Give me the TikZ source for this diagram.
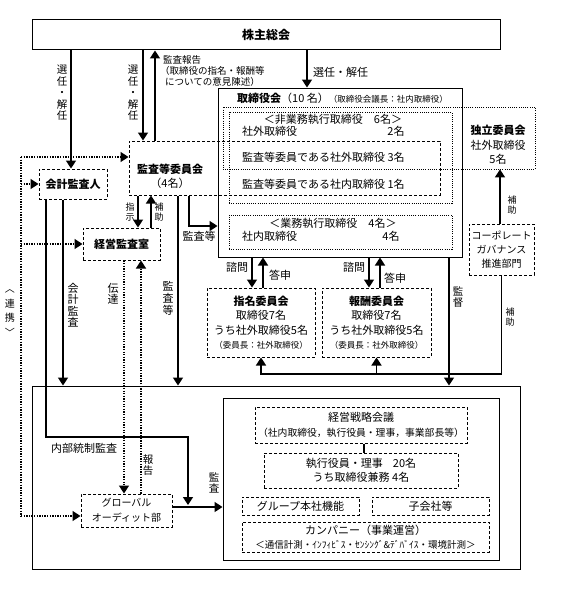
\documentclass[tikz,border=0pt]{standalone}
\usepackage{fontspec}
\setmainfont{Noto Sans CJK JP}
\usetikzlibrary{arrows.meta}

\begin{document}
\begin{tikzpicture}[x=1pt, y=-1pt,
  font=\fontsize{11}{14.5}\selectfont,
  box/.style={draw, line width=1pt, inner sep=0pt},
  dashbox/.style={box, dash pattern=on 3pt off 2pt},
  dotbox/.style={draw, line width=0.8pt, dash pattern=on 1pt off 1.2pt, inner sep=0pt},
  conn/.style={line width=1.6pt},
  arr/.style={conn, -{Triangle[length=8pt,width=10pt]}},
  dotline/.style={line width=1.5pt, dash pattern=on 1.3pt off 1.3pt},
  dotarr/.style={dotline, -{Triangle[length=8pt,width=10pt]}},
  lbl/.style={inner sep=0pt, align=center},
  vlbl/.style={lbl, font=\fontsize{10.5}{11.5}\selectfont},
  svlbl/.style={lbl, font=\fontsize{9}{10.5}\selectfont}]

\useasboundingbox (0,0) rectangle (572,594);

% boxes
\node[box, minimum width=468, minimum height=30] (kabu) at (266,35) {\fontsize{12}{14}\selectfont\textbf{株主総会}};
\node[box, minimum width=244, minimum height=169] (tori) at (340,172.5) {};
\node[dotbox, minimum width=223, minimum height=91] (hi) at (340.5,157.5) {};
\node[dotbox, minimum width=312, minimum height=62] (dokuritsu) at (379,138) {};
\node[dashbox, minimum width=311, minimum height=54] (kansa) at (284.5,168) {};
\node[dotbox, minimum width=223, minimum height=34] (gyomu) at (340.5,232) {};
\node[dashbox, minimum width=68, minimum height=30] (kaikei) at (73,184) {\textbf{会計監査人}};
\node[dashbox, minimum width=77, minimum height=32] (keiei) at (121.5,244) {\textbf{経営監査室}};
\node[dashbox, minimum width=65, minimum height=51, align=center, font=\fontsize{10}{14}\selectfont] (cg) at (501.5,249.5) {コーポレート\\ガバナンス\\推進部門};
\node[dashbox, minimum width=108, minimum height=69, align=center] (shimei) at (261,322.5)
  {\textbf{指名委員会}\\取締役7名\\うち社外取締役5名\\{\fontsize{8.5}{11}\selectfont（委員長：社外取締役）}};
\node[dashbox, minimum width=109, minimum height=69, align=center] (hoshu) at (376.5,322.5)
  {\textbf{報酬委員会}\\取締役7名\\うち社外取締役5名\\{\fontsize{8.5}{11}\selectfont（委員長：社外取締役）}};
\node[box, minimum width=488, minimum height=183] (big) at (276,477.5) {};
\node[box, minimum width=276, minimum height=162] (inner) at (361,479) {};
\node[dashbox, minimum width=212, minimum height=36, align=center, font=\fontsize{11}{15}\selectfont] (senryaku) at (361,425)
  {経営戦略会議\\{\fontsize{9.8}{12}\selectfont（社内取締役，執行役員・理事，事業部長等）}};
\node[dashbox, minimum width=194, minimum height=35, align=center] (shikko) at (361,470.5)
  {執行役員・理事\hspace{10pt}20名\\うち取締役兼務\ 4名};
\node[dashbox, minimum width=117, minimum height=18] (group) at (300.5,506) {グループ本社機能};
\node[dashbox, minimum width=117, minimum height=18] (kogaisha) at (430.5,506) {子会社等};
\node[dashbox, minimum width=247, minimum height=30, align=center, font=\fontsize{11}{14}\selectfont] (company) at (365.5,537)
  {カンパニー（事業運営）\\{\fontsize{9.5}{12}\selectfont＜通信計測・ｲﾝﾌｨﾋﾞｽ・ｾﾝｼﾝｸﾞ\&ﾃﾞﾊﾞｲｽ・環境計測＞}};
\node[dashbox, minimum width=91, minimum height=33, align=center, font=\fontsize{10}{15}\selectfont] (global) at (126.5,510.5) {グローバル\\オーディット部};

% texts in the board
\node[lbl, anchor=west] (toriname) at (237,98) {\textbf{取締役会}（10 名）{\fontsize{8.5}{11}\selectfont（取締役会議長：社内取締役）}};
\node[lbl] (hititle) at (333,119) {＜非業務執行取締役　6名＞};
\node[lbl, anchor=west] (hi1) at (242,131) {社外取締役};
\node[lbl] (hi1n) at (396,131) {2名};
\node[lbl, anchor=west] (kansa1) at (242,157) {監査等委員である社外取締役 3名};
\node[lbl, anchor=west] (kansa2) at (242,184) {監査等委員である社内取締役 1名};
\node[lbl] (gyomutitle) at (333,223) {＜業務執行取締役　4名＞};
\node[lbl, anchor=west] (gyomu1) at (242,236) {社内取締役};
\node[lbl] (gyomu1n) at (391,236) {4名};
\node[lbl] (dokuritsuname) at (498,145) {\textbf{独立委員会}\\社外取締役\\5名};
\node[lbl, font=\fontsize{11}{14}\selectfont] (kansaname) at (170,176) {\textbf{監査等委員会}\\（4名）};

% labels
\node[vlbl] (senninA) at (62,93) {選\\任\\・\\解\\任};
\node[vlbl] (senninB) at (133,93) {選\\任\\・\\解\\任};
\node[lbl, anchor=west, align=left, font=\fontsize{9.5}{11}\selectfont] (hokoku) at (160,71)
  {\hspace*{3pt}監査報告\\（取締役の指名・報酬等\\\hspace*{5pt}についての意見陳述）};
\node[lbl, anchor=west] (senninC) at (313,72) {選任・解任};
\node[svlbl] (shiji) at (130,212) {指\\示};
\node[svlbl] (hojoA) at (159,212) {補\\助};
\node[lbl] (kansato) at (199,236) {監査等};
\node[vlbl, font=\fontsize{11}{12}\selectfont] (kansatoB) at (168,298) {監\\査\\等};
\node[vlbl, font=\fontsize{11}{11.5}\selectfont] (kaikeikansa) at (73,305) {会\\計\\監\\査};
\node[vlbl, font=\fontsize{11}{11.5}\selectfont] (dentatsu) at (113,294) {伝\\達};
\node[vlbl] (hokokuB) at (148,465) {報\\告};
\node[lbl] (naibu) at (84,448) {内部統制監査};
\node[vlbl] (kansaC) at (214,483) {監\\査};
\node[lbl] (shimonA) at (237,267) {諮問};
\node[lbl] (toshinA) at (280,275) {答申};
\node[lbl] (shimonB) at (354,267) {諮問};
\node[lbl] (toshinB) at (395,278) {答申};
\node[vlbl] (kantoku) at (458,297) {監\\督};
\node[svlbl] (hojoB) at (512,205) {補\\助};
\node[svlbl] (hojoC) at (510,317) {補\\助};
\node[lbl, font=\fontsize{10}{14.5}\selectfont] (renkei) at (10,313) {︿\\連\\携\\﹀};

% connectors
\draw[arr] (kabu.south -| 71,0) -- (kaikei.north -| 71,0);
\draw[arr] (kabu.south -| 143,0) -- (kansa.north -| 143,0);
\draw[arr] (kansa.north -| 155,0) -- (kabu.south -| 155,0);
\draw[arr] (kabu.south -| 307,0) -- (tori.north -| 307,0);
\draw[arr] (kansa.south -| 138,0) -- (keiei.north -| 138,0);
\draw[arr] (keiei.north -| 151,0) -- (kansa.south -| 151,0);
\draw[arr] (kansa.south -| 189,0) |- (tori.west |- 0,226);
\draw[arr] (kansa.south -| 178,0) -- (big.north -| 178,0);
\draw[arr] (kaikei.south -| 63,0) -- (big.north -| 63,0);
\coordinate (naibuend) at (188,505);
\draw[arr] (kaikei.south -| 46,0) |- (naibuend |- 0,437) -- (naibuend);
\draw[dotarr] (keiei.south -| 124,0) -- (global.north -| 124,0);
\draw[dotarr] (global.north -| 141,0) -- (keiei.south -| 141,0);
\draw[arr] (global.east |- 0,507) -- (inner.west |- 0,507);
\draw[arr] (tori.south -| 252,0) -- (shimei.north -| 252,0);
\draw[arr] (shimei.north -| 263,0) -- (tori.south -| 263,0);
\draw[arr] (tori.south -| 369,0) -- (hoshu.north -| 369,0);
\draw[arr] (hoshu.north -| 380,0) -- (tori.south -| 380,0);
\draw[arr] (tori.south -| 449,0) -- (big.north -| 449,0);
\draw[arr] (cg.north -| 500,0) -- (dokuritsu.south -| 500,0);
\draw[arr] (cg.south) |- (shimei.south |- 0,374) -- (shimei.south);
\draw[arr] (hoshu.south |- 0,374) -- (hoshu.south);
\draw[line width=1.3pt] (senryaku.south -| 364,0) -- (shikko.north -| 364,0);

% renkei
\coordinate (renkeitop) at (21,157);
\coordinate (renkeibot) at (21,516);
\draw[dotline] (renkeitop) -- (renkeibot);
\draw[dotarr] (renkeitop) -- (renkeitop -| kansa.west);
\draw[dotarr] (renkeitop |- kaikei.west) -- (kaikei.west);
\draw[dotarr] (renkeitop |- keiei.west) -- (keiei.west);
\draw[dotarr] (renkeibot) -- (renkeibot -| global.west);

\end{tikzpicture}
\end{document}
